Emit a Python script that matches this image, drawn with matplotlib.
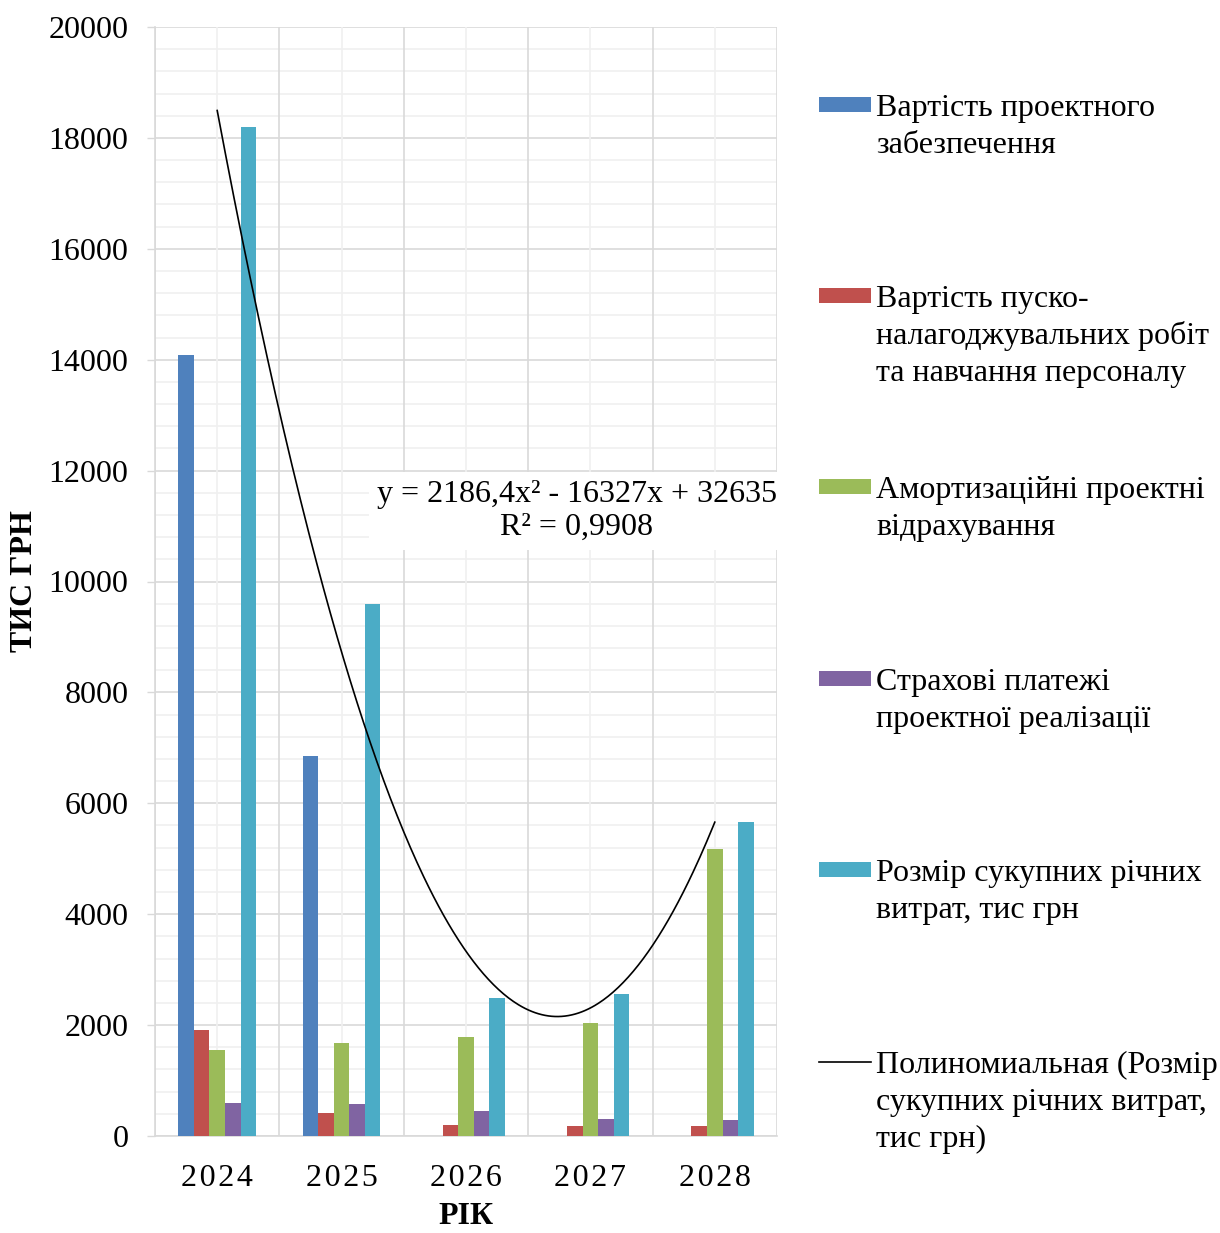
import numpy as np
import matplotlib
matplotlib.use("Agg")
import matplotlib.pyplot as plt
from matplotlib.patches import Rectangle
from matplotlib.lines import Line2D
from matplotlib.ticker import FixedLocator

plt.rcParams['font.family'] = ['Liberation Serif', 'DejaVu Serif']

years = ['2024', '2025', '2026', '2027', '2028']
design_cost = [14090, 6860, 0, 0, 0]
commissioning_cost = [1920, 420, 200, 185, 180]
depreciation = [1545, 1675, 1785, 2030, 5170]
insurance = [595, 570, 450, 300, 280]
total_cost = [18200, 9590, 2480, 2555, 5660]
trend_coeffs = [2186.4, -16327, 32635]
trend_text = 'y = 2186,4x² - 16327x + 32635\nR² = 0,9908'
y_ticks = [0, 2000, 4000, 6000, 8000, 10000, 12000, 14000, 16000, 18000, 20000]

series = [
    ('Вартість проектного\nзабезпечення', design_cost, '#4F81BD'),
    ('Вартість пуско-\nналагоджувальних робіт\nта навчання персоналу', commissioning_cost, '#C0504D'),
    ('Амортизаційні проектні\nвідрахування', depreciation, '#9BBB59'),
    ('Страхові платежі\nпроектної реалізації', insurance, '#8064A2'),
    ('Розмір сукупних річних\nвитрат, тис грн', total_cost, '#4BACC6'),
]
trend_label = 'Полиномиальная (Розмір\nсукупних річних витрат,\nтис грн)'

W, H = 1220, 1233
fig = plt.figure(figsize=(W / 100, H / 100), dpi=100)
L, R, T, B = 155, 777, 27, 1136
ax = fig.add_axes([L / W, 1 - B / H, (R - L) / W, (B - T) / H])

FS = 23
x = np.arange(len(years))
bw = 0.125
for i, (lab, vals, col) in enumerate(series):
    ax.bar(x + (i - 2) * bw, vals, width=bw, color=col, edgecolor='none', zorder=3)

t = np.linspace(0, len(years) - 1, 300)
ax.plot(t, np.polyval(trend_coeffs, t + 1), color='black', lw=1.2, zorder=4)

ax.set_xlim(-0.5, len(years) - 0.5)
ax.set_ylim(0, 20000)
ax.yaxis.set_major_locator(FixedLocator(y_ticks))
ax.set_yticklabels([str(v) for v in y_ticks])
ax.xaxis.set_major_locator(FixedLocator(x))
ax.set_xticklabels(['\u200a'.join(list(y)) for y in years], fontsize=FS)
ax.tick_params(axis='x', which='both', length=0, pad=20)
ax.tick_params(axis='y', which='major', length=6, color='#d9d9d9', width=1, labelsize=FS, pad=13)
ax.tick_params(axis='y', which='minor', length=0)

# gridlines
ax.grid(False)
for yv in range(0, 20001, 400):
    ax.axhline(yv, color='#d9d9d9' if yv % 2000 == 0 else '#f0f0f0', lw=1.2, zorder=1)
for xv in np.arange(-0.5, len(years), 1.0):
    ax.axvline(xv, color='#d9d9d9', lw=1.2, zorder=1)
for xv in x:
    ax.axvline(xv, color='#f0f0f0', lw=1.2, zorder=1)
for s in ax.spines.values():
    s.set_visible(False)
for side in ('bottom', 'left'):
    ax.spines[side].set_visible(True)
    ax.spines[side].set_color('#d9d9d9')
    ax.spines[side].set_linewidth(1.2)

ax.text(577 / W, 1 - 511 / H, trend_text, transform=fig.transFigure, ha='center', va='center',
        multialignment='center', fontsize=FS, zorder=6, linespacing=1.2,
        bbox=dict(boxstyle='square,pad=0.25', fc='white', ec='none'), clip_on=False)

fig.text(466 / W, 1 - 1224 / H, 'РІК', ha='center', va='baseline', fontsize=FS, fontweight='bold')
fig.text(25 / W, 1 - 581 / H, 'ТИС ГРН', ha='center', va='center', rotation=90,
         fontsize=FS, fontweight='bold')

# legend (manual)
first = [105, 296, 487, 679, 870, 1062]
labels = [s[0] for s in series] + [trend_label]
for k, lab in enumerate(labels):
    yc = first[k]
    if k < len(series):
        fig.patches.append(Rectangle((819 / W, 1 - (yc + 6.5) / H), 52 / W, 15 / H,
                                     transform=fig.transFigure, facecolor=series[k][2],
                                     edgecolor='none'))
    else:
        fig.lines.append(Line2D([819 / W, 871 / W], [1 - yc / H, 1 - yc / H],
                                transform=fig.transFigure, color='black', lw=1.2))
    for j, line in enumerate(lab.split('\n')):
        fig.text(876 / W, 1 - (yc + 11 + 37 * j) / H, line, ha='left', va='baseline',
                 fontsize=FS)

fig.savefig('out.png', dpi=100)
